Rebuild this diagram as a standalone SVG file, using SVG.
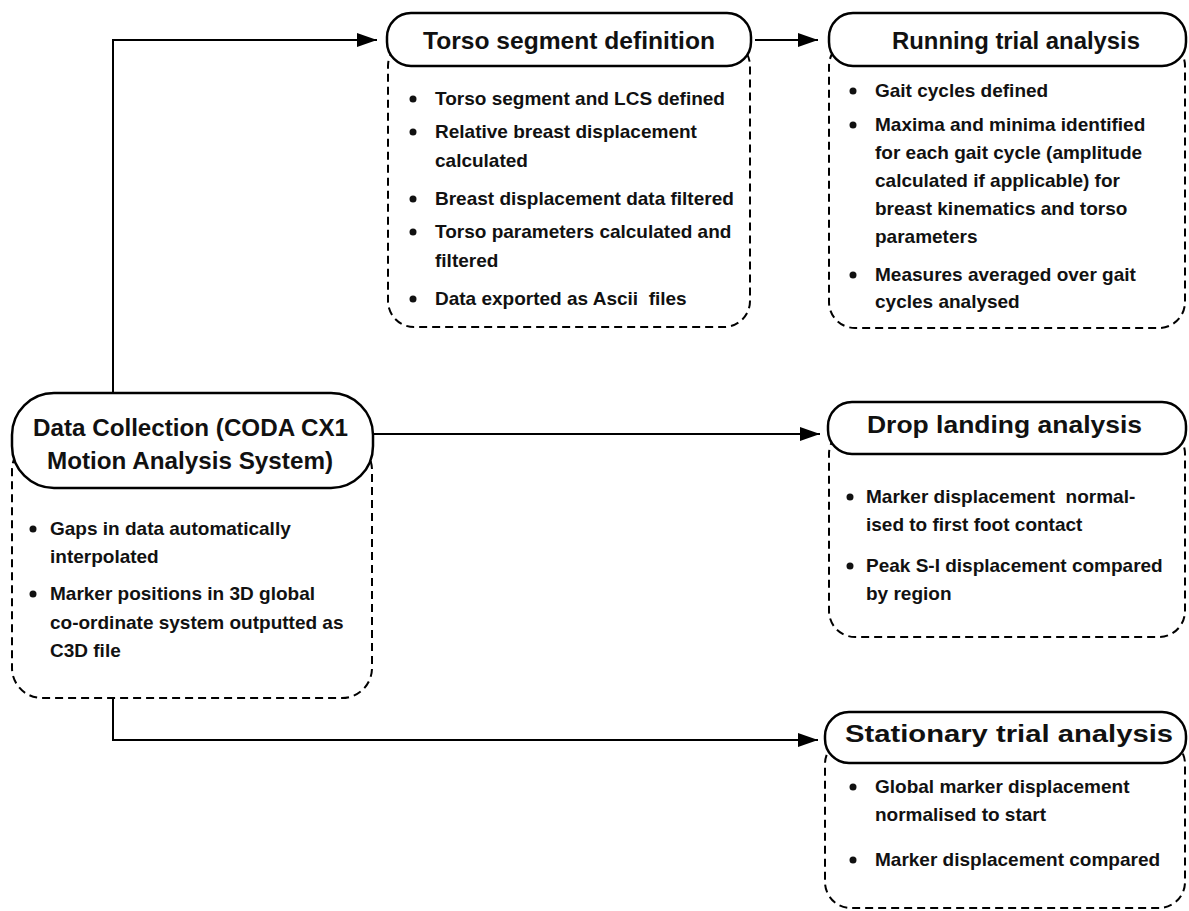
<svg xmlns="http://www.w3.org/2000/svg" width="1189" height="911" viewBox="0 0 1189 911">
<style>
.hdr{fill:#fff;stroke:#000;stroke-width:2.5}
.box{fill:#fff;stroke:#000;stroke-width:2;stroke-dasharray:8 5}
.t{font-family:"Liberation Sans",Arial,sans-serif;font-weight:bold;font-size:24px;fill:#111}
.b{font-family:"Liberation Sans",Arial,sans-serif;font-weight:bold;font-size:19px;fill:#111;white-space:pre}
.dot{fill:#111}
.c{fill:none;stroke:#000;stroke-width:2}
</style>
<defs>
<marker id="ah" markerWidth="20" markerHeight="14" refX="20" refY="7" orient="auto" markerUnits="userSpaceOnUse">
<path d="M0,0 L20,7 L0,14 Z" fill="#000"/>
</marker>
</defs>
<g id="connectors">
<path class="c" d="M113,393 V40 H377" marker-end="url(#ah)"/>
<path class="c" d="M755,40 H818" marker-end="url(#ah)"/>
<path class="c" d="M373,434 H820" marker-end="url(#ah)"/>
<path class="c" d="M113,698 V740 H818" marker-end="url(#ah)"/>
</g>
<g id="torso">
<rect class="box" x="388" y="40" width="362" height="287" rx="26"/>
<rect class="hdr" x="387" y="13" width="364" height="53" rx="24"/>
<text class="t" x="423" y="49" textLength="292" lengthAdjust="spacingAndGlyphs">Torso segment definition</text>
<circle class="dot" cx="413" cy="99" r="3.5"/>
<circle class="dot" cx="413" cy="132" r="3.5"/>
<circle class="dot" cx="413" cy="199" r="3.5"/>
<circle class="dot" cx="413" cy="232" r="3.5"/>
<circle class="dot" cx="413" cy="299" r="3.5"/>
<text class="b" x="435" y="105">Torso segment and LCS defined</text>
<text class="b" x="435" y="138">Relative breast displacement</text>
<text class="b" x="435" y="167">calculated</text>
<text class="b" x="435" y="205">Breast displacement data filtered</text>
<text class="b" x="435" y="238">Torso parameters calculated and</text>
<text class="b" x="435" y="267">filtered</text>
<text class="b" x="435" y="305">Data exported as Ascii  files</text>
</g>
<g id="running">
<rect class="box" x="829" y="40" width="356" height="288" rx="26"/>
<rect class="hdr" x="829" y="13" width="357" height="53" rx="24"/>
<text class="t" x="892" y="49" textLength="248" lengthAdjust="spacingAndGlyphs">Running trial analysis</text>
<circle class="dot" cx="853" cy="91" r="3.5"/>
<circle class="dot" cx="853" cy="125" r="3.5"/>
<circle class="dot" cx="853" cy="275" r="3.5"/>
<text class="b" x="875" y="97">Gait cycles defined</text>
<text class="b" x="875" y="131">Maxima and minima identified</text>
<text class="b" x="875" y="159">for each gait cycle (amplitude</text>
<text class="b" x="875" y="187">calculated if applicable) for</text>
<text class="b" x="875" y="215">breast kinematics and torso</text>
<text class="b" x="875" y="243">parameters</text>
<text class="b" x="875" y="281">Measures averaged over gait</text>
<text class="b" x="875" y="308">cycles analysed</text>
</g>
<g id="datacollection">
<rect class="box" x="12" y="440" width="360" height="258" rx="30"/>
<rect class="hdr" x="12" y="393" width="361" height="95" rx="42"/>
<text class="t" x="33" y="436" textLength="315" lengthAdjust="spacingAndGlyphs">Data Collection (CODA CX1</text>
<text class="t" x="47" y="469" textLength="286" lengthAdjust="spacingAndGlyphs">Motion Analysis System)</text>
<circle class="dot" cx="33" cy="529" r="3.5"/>
<circle class="dot" cx="33" cy="594" r="3.5"/>
<text class="b" x="50" y="535">Gaps in data automatically</text>
<text class="b" x="50" y="563">interpolated</text>
<text class="b" x="50" y="600">Marker positions in 3D global</text>
<text class="b" x="50" y="629">co-ordinate system outputted as</text>
<text class="b" x="50" y="657">C3D file</text>
</g>
<g id="droplanding">
<rect class="box" x="829" y="428" width="356" height="209" rx="26"/>
<rect class="hdr" x="828" y="402" width="358" height="52" rx="24"/>
<text class="t" x="867" y="433" textLength="275" lengthAdjust="spacingAndGlyphs">Drop landing analysis</text>
<circle class="dot" cx="850" cy="497" r="3.5"/>
<circle class="dot" cx="850" cy="566" r="3.5"/>
<text class="b" x="866" y="503">Marker displacement  normal-</text>
<text class="b" x="866" y="531">ised to first foot contact</text>
<text class="b" x="866" y="572">Peak S-I displacement compared</text>
<text class="b" x="866" y="600">by region</text>
</g>
<g id="stationary">
<rect class="box" x="825" y="738" width="360" height="170" rx="26"/>
<rect class="hdr" x="825" y="712" width="361" height="51" rx="24"/>
<text class="t" x="845" y="742" textLength="328" lengthAdjust="spacingAndGlyphs">Stationary trial analysis</text>
<circle class="dot" cx="853" cy="787" r="3.5"/>
<circle class="dot" cx="853" cy="860" r="3.5"/>
<text class="b" x="875" y="793">Global marker displacement</text>
<text class="b" x="875" y="821">normalised to start</text>
<text class="b" x="875" y="866">Marker displacement compared</text>
</g>
</svg>
